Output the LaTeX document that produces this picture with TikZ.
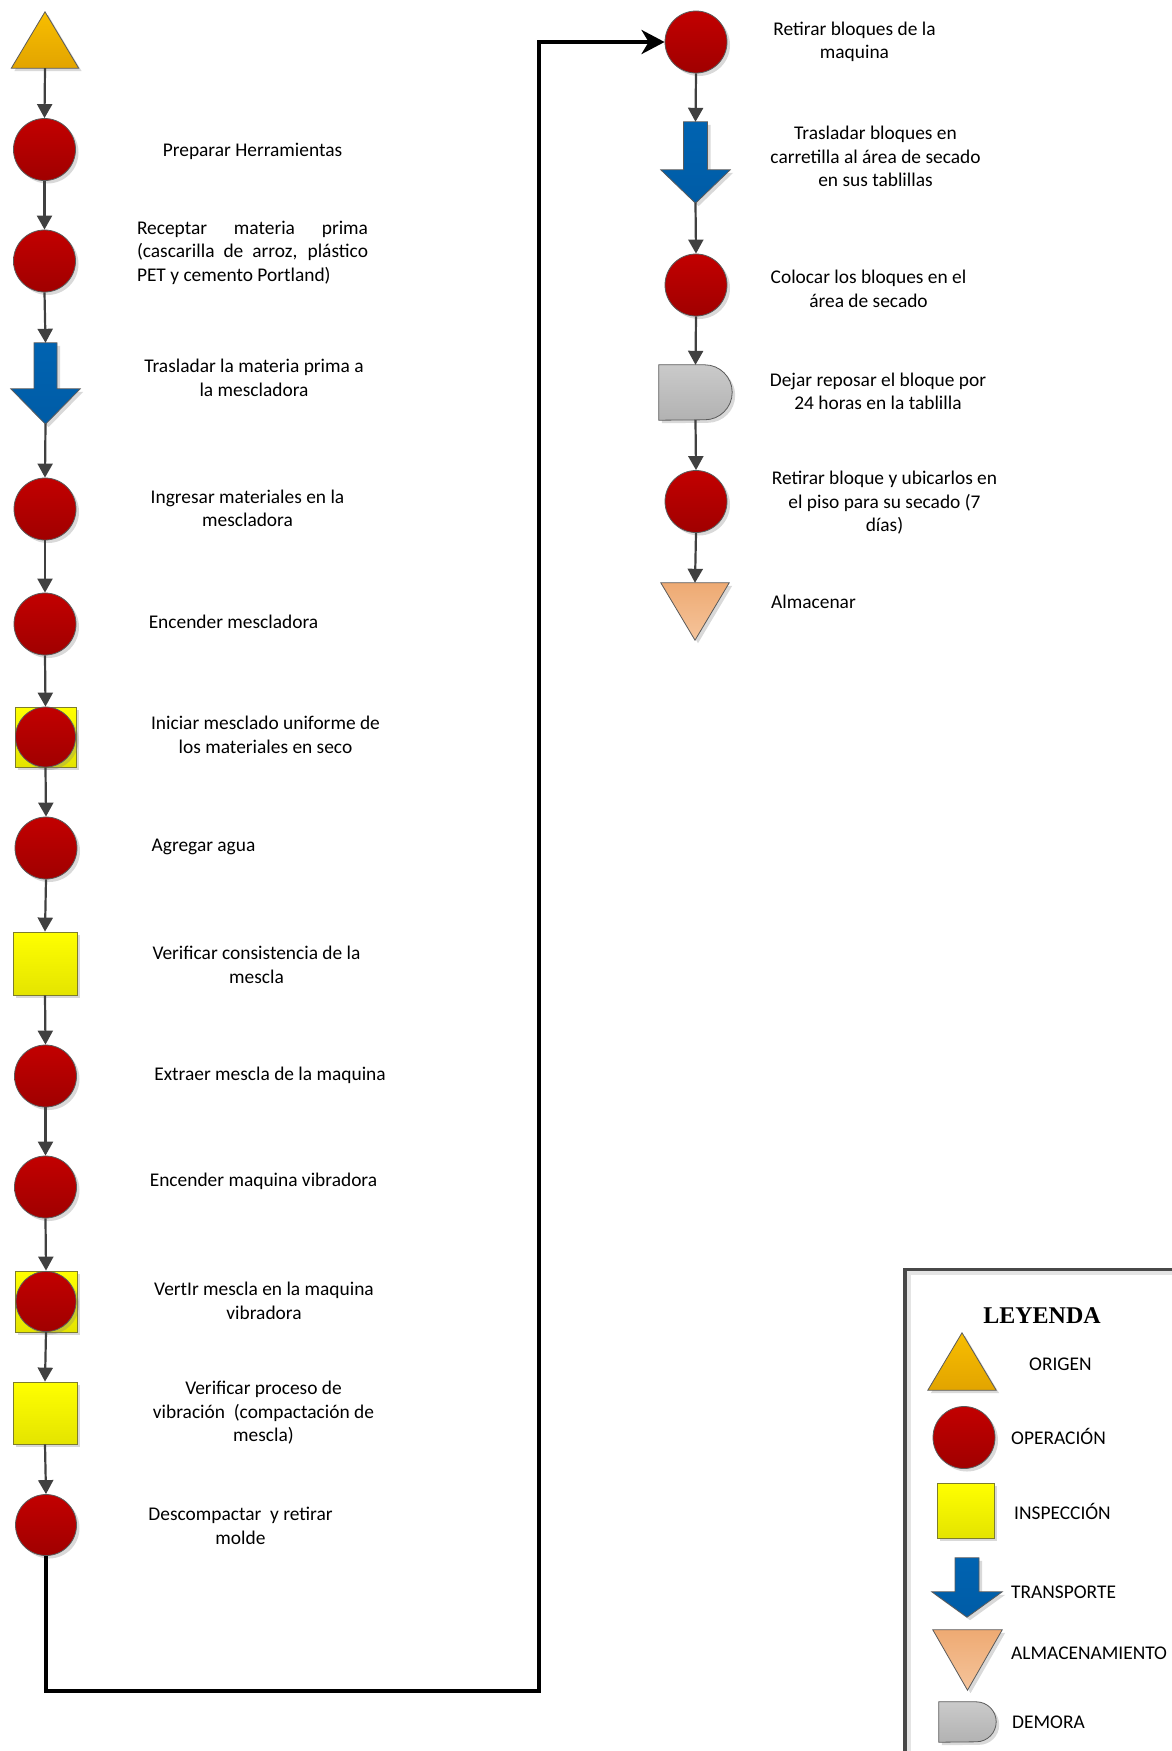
\documentclass[tikz,border=0pt]{standalone}
\usepackage{fontspec}
\setmainfont{Carlito}
\newfontfamily\leyfont{Liberation Serif}
\usetikzlibrary{shadows,calc,arrows.meta}
\definecolor{opTop}{RGB}{194,0,0}
\definecolor{opBot}{RGB}{160,0,0}
\definecolor{edgeG}{RGB}{90,90,90}
\definecolor{yelTop}{RGB}{255,255,0}
\definecolor{yelBot}{RGB}{228,228,0}
\definecolor{yelEdge}{RGB}{125,125,45}
\definecolor{orgTop}{RGB}{248,190,0}
\definecolor{orgBot}{RGB}{226,164,0}
\definecolor{blueT}{RGB}{0,99,177}
\definecolor{blueB}{RGB}{0,92,166}
\definecolor{peachTop}{RGB}{238,170,115}
\definecolor{peachBot}{RGB}{245,196,155}
\definecolor{grayTop}{RGB}{202,202,202}
\definecolor{grayBot}{RGB}{178,178,178}
\definecolor{conn}{RGB}{64,64,64}
\definecolor{legEdge}{RGB}{72,72,72}
\definecolor{legInner}{RGB}{228,228,228}
\newcommand\trishape[2]{\path[#2] (#1.south west) -- (#1.north) -- (#1.south east) -- cycle;}
\newcommand\invtrishape[2]{\path[#2] (#1.north west) -- (#1.north east) -- (#1.south) -- cycle;}
\newcommand\transpshape[3]{\path[transp] ($(#1.north)+(-#2,0)$) -- ($(#1.north)+(#2,0)$) -- ($(#1.north)+(#2,#3)$) -- ($(#1.north east)+(0,#3)$) -- (#1.south) -- ($(#1.north west)+(0,#3)$) -- ($(#1.north)+(-#2,#3)$) -- cycle;}
\newcommand\demshape[2]{\path[demora] (#1.north west) -- ($(#1.north east)+(-#2,0)$) arc[start angle=90,end angle=-90,radius=#2pt] -- (#1.south west) -- cycle;}
\begin{document}
\begin{tikzpicture}[x=1pt,y=-1pt,
  shd/.style={drop shadow={shadow xshift=3pt,shadow yshift=-3pt,opacity=0.3,fill=black!50}},
  opcirc/.style={circle,minimum size=62pt,inner sep=0pt,draw=edgeG,line width=0.8pt,top color=opTop,bottom color=opBot,shd},
  inspbox/.style={rectangle,inner sep=0pt,draw=yelEdge,line width=0.8pt,top color=yelTop,bottom color=yelBot,shd},
  ghost/.style={rectangle,inner sep=0pt,draw=none},
  origin/.style={draw=edgeG,line width=0.8pt,top color=orgTop,bottom color=orgBot,shd},
  almac/.style={draw=edgeG,line width=0.8pt,top color=peachTop,bottom color=peachBot,shd},
  transp/.style={draw=edgeG,line width=0.8pt,top color=blueT,bottom color=blueB,shd},
  demora/.style={draw=edgeG,line width=0.8pt,top color=grayTop,bottom color=grayBot,shd},
  flow/.style={draw=conn,line width=2.2pt,-{Triangle[width=15pt,length=14pt]}},
  bigflow/.style={draw=black,line width=4.6pt,-{Stealth[length=23pt,width=24pt,inset=7pt]}},
  lbl/.style={inner sep=0pt,align=center,font=\fontsize{19.4}{23.5}\selectfont,execute at begin node=\strut,execute at end node=\strut},
  lblw/.style={lbl,anchor=west}
]
\useasboundingbox (0,0) rectangle (1171,1751);
% ---------- left column ----------
\node[ghost,minimum width=67pt,minimum height=56pt] (n0) at (45,40) {};
\trishape{n0}{origin}
\node[opcirc] (n1) at (44.5,149.5) {};
\node[opcirc] (n2) at (44.5,261) {};
\node[ghost,minimum width=69pt,minimum height=81pt] (n3) at (45.5,383.5) {};
\transpshape{n3}{11.5}{46}
\node[opcirc] (n4) at (45,509) {};
\node[opcirc] (n5) at (45,624) {};
\node[inspbox,minimum width=61pt,minimum height=60pt] (n6sq) at (45.5,737) {};
\node[opcirc,minimum size=60pt] (n6) at (45.5,737) {};
\node[opcirc] (n7) at (46,848) {};
\node[inspbox,minimum width=64pt,minimum height=63pt] (n8) at (45,963.5) {};
\node[opcirc] (n9) at (45.5,1076) {};
\node[opcirc] (n10) at (45.5,1187) {};
\node[inspbox,minimum width=62pt,minimum height=61pt] (n11sq) at (46,1301.5) {};
\node[opcirc,minimum size=60pt] (n11) at (46,1301.5) {};
\node[inspbox,minimum width=64pt,minimum height=62pt] (n12) at (45,1413) {};
\node[opcirc,minimum size=61pt] (n13) at (46,1525) {};
% ---------- right column ----------
\node[opcirc] (r0) at (696,42) {};
\node[ghost,minimum width=69pt,minimum height=81pt] (r1) at (695.5,162.5) {};
\transpshape{r1}{12}{48}
\node[opcirc] (r2) at (696,285) {};
\node[ghost,minimum width=73pt,minimum height=55pt] (r3) at (695.5,392.5) {};
\demshape{r3}{27.5}
\node[opcirc] (r4) at (696,501.5) {};
\node[ghost,minimum width=68pt,minimum height=57pt] (r5) at (695,611.5) {};
\invtrishape{r5}{almac}
% ---------- connectors ----------
\draw[flow] (n0.south) -- (n1.north);
\draw[flow] (n1.south) -- (n2.north);
\draw[flow] (n2.south) -- (n3.north);
\draw[flow] (n3.south) -- (n4.north);
\draw[flow] (n4.south) -- (n5.north);
\draw[flow] (n5.south) -- (n6sq.north);
\draw[flow] (n6.south) -- (n7.north);
\draw[flow] (n7.south) -- (n8.north);
\draw[flow] (n8.south) -- (n9.north);
\draw[flow] (n9.south) -- (n10.north);
\draw[flow] (n10.south) -- (n11sq.north);
\draw[flow] (n11.south) -- (n12.north);
\draw[flow] (n12.south) -- (n13.north);
\draw[flow] (r0.south) -- (r1.north);
\draw[flow] (r1.south) -- (r2.north);
\draw[flow] (r2.south) -- (r3.north);
\draw[flow] (r3.south) -- (r4.north);
\draw[flow] (r4.south) -- (r5.north);
\coordinate (c1) at (539,1691);
\draw[bigflow] (n13.south) |- (c1) |- (r0.west);
% ---------- labels ----------
\node[lbl] (t1) at (252.5,151.5) {Preparar Herramientas};
\node[lbl,text width=231pt,align=justify] (t2) at (252.5,253) {Receptar materia prima\linebreak (cascarilla de arroz, plástico\linebreak PET y cemento Portland)};
\node[lbl] (t3) at (254,381.5) {Trasladar la materia prima a\\la mescladora};
\node[lbl] (t4) at (247.5,512) {Ingresar materiales en la\\mescladora};
\node[lbl] (t5) at (233.5,623.5) {Encender mescladora};
\node[lbl] (t6) at (265.5,738.5) {Iniciar mesclado uniforme de\\los materiales en seco};
\node[lbl] (t7) at (203.5,846.5) {Agregar agua};
\node[lbl] (t8) at (256.5,968.5) {Verificar consistencia de la\\mescla};
\node[lbl] (t9) at (270,1075.5) {Extraer mescla de la maquina};
\node[lbl] (t10) at (263.5,1181.5) {Encender maquina vibradora};
\node[lbl] (t11) at (264,1304.5) {VertIr mescla en la maquina\\vibradora};
\node[lbl] (t12) at (263.5,1415) {Verificar proceso de\\vibración~ (compactación de\\mescla)};
\node[lbl] (t13) at (240.5,1529.5) {Descompactar~ y retirar\\molde};
\node[lbl] (u0) at (854.5,44) {Retirar bloques de la\\maquina};
\node[lbl] (u1) at (875.5,160) {Trasladar bloques en\\carretilla al área de secado\\en sus tablillas};
\node[lbl] (u2) at (868.5,292.5) {Colocar los bloques en el\\área de secado};
\node[lbl] (u3) at (878,395) {Dejar reposar el bloque por\\24 horas en la tablilla};
\node[lbl] (u4) at (884.5,505) {Retirar bloque y ubicarlos en\\el piso para su secado (7\\días)};
\node[lblw] (u5) at (771,603.5) {Almacenar};
% ---------- legend ----------
\draw[draw=legInner,line width=4pt] (908.7,1760) -- (908.7,1273) -- (1180,1273);
\draw[draw=legEdge,line width=3.4pt] (905,1760) -- (905,1269.4) -- (1180,1269.4);
\node[inner sep=0pt,font=\leyfont\bfseries\fontsize{24}{28}\selectfont] (ley) at (1042,1316) {LEYENDA};
\node[ghost,minimum width=68pt,minimum height=57pt] (L0) at (962,1361.5) {};
\trishape{L0}{origin}
\node[opcirc] (L1) at (964,1437.5) {};
\node[inspbox,minimum width=57pt,minimum height=55pt] (L2) at (965.5,1510.5) {};
\node[ghost,minimum width=70pt,minimum height=59pt] (L3) at (967,1587.5) {};
\transpshape{L3}{12}{34}
\node[ghost,minimum width=69pt,minimum height=60pt] (L4) at (967.5,1660) {};
\invtrishape{L4}{almac}
\node[ghost,minimum width=57pt,minimum height=40pt] (L5) at (967.5,1722) {};
\demshape{L5}{20}
\node[lblw] (k0) at (1029,1366) {ORIGEN};
\node[lblw] (k1) at (1011,1439.5) {OPERACIÓN};
\node[lblw] (k2) at (1014,1514.5) {INSPECCIÓN};
\node[lblw] (k3) at (1011,1593.5) {TRANSPORTE};
\node[lblw] (k4) at (1011,1655) {ALMACENAMIENTO};
\node[lblw] (k5) at (1012,1723.5) {DEMORA};
\end{tikzpicture}
\end{document}
